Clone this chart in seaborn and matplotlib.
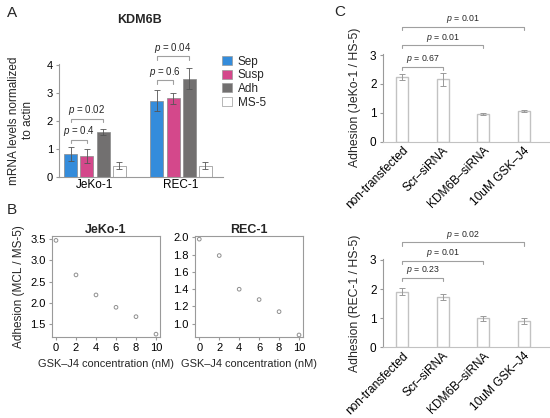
import numpy as np
import pandas as pd
import matplotlib
matplotlib.use("Agg")
import matplotlib.pyplot as plt
import seaborn as sns

# panel A - KDM6B mRNA
cells = ["JeKo-1", "REC-1"]
conds = ["Sep", "Susp", "Adh", "MS-5"]
mrna_jeko = [0.82, 0.75, 1.60, 0.40]
mrna_jeko_err = [0.25, 0.25, 0.11, 0.14]
mrna_rec = [2.72, 2.80, 3.51, 0.40]
mrna_rec_err = [0.38, 0.20, 0.37, 0.13]

# panel B - GSK-J4 dose
gsk_conc = [0, 2, 4, 6, 8, 10]
adh_jeko_dose = [3.47, 2.66, 2.19, 1.90, 1.68, 1.27]
adh_rec_dose = [1.98, 1.79, 1.40, 1.28, 1.14, 0.87]

# panel C - adhesion after knockdown
treatments = ["non-transfected", "Scr\u2013siRNA", "KDM6B\u2013siRNA", "10uM GSK\u2013J4"]
adh_jeko = [2.23, 2.16, 0.95, 1.06]
adh_jeko_err = [0.11, 0.23, 0.04, 0.04]
adh_rec = [1.90, 1.72, 0.99, 0.90]
adh_rec_err = [0.12, 0.10, 0.07, 0.10]

sns.set_style("ticks")
plt.rcParams["font.family"] = ["Liberation Sans", "DejaVu Sans"]
plt.rcParams["mathtext.fontset"] = "custom"
plt.rcParams["mathtext.it"] = "Liberation Sans:italic"
plt.rcParams["mathtext.rm"] = "Liberation Sans"
plt.rcParams["axes.edgecolor"] = "#9a9a9a"
plt.rcParams["axes.linewidth"] = 0.8
plt.rcParams["xtick.color"] = "#9a9a9a"
plt.rcParams["ytick.color"] = "#9a9a9a"
plt.rcParams["xtick.labelcolor"] = "black"
plt.rcParams["ytick.labelcolor"] = "black"
plt.rcParams["xtick.major.size"] = 2.5
plt.rcParams["ytick.major.size"] = 2.5
plt.rcParams["xtick.major.pad"] = 2
plt.rcParams["ytick.major.pad"] = 2

W, H = 550, 418
fig = plt.figure(figsize=(W / 100, H / 100), dpi=100)


def px_axes(l, t, r, b):
    return fig.add_axes([l / W, 1 - b / H, (r - l) / W, (b - t) / H])


def bracket(ax, x1, x2, y, label, drop, fs=6.5):
    ax.plot([x1, x1, x2, x2], [y - drop, y, y, y - drop], color="#a0a0a0",
            lw=0.8, clip_on=False)
    ax.text((x1 + x2) / 2, y + drop * 0.4, label, ha="center", va="bottom",
            fontsize=fs, clip_on=False)


def bar_centers(ax):
    ps = sorted([p for p in ax.patches if p.get_height() > 0], key=lambda p: p.get_x())
    return [p.get_x() + p.get_width() / 2 for p in ps]


# ---------------- A ----------------
axA = px_axes(59.3, 64.3, 223.3, 176.7)
dfA = pd.DataFrame({
    "cell": np.repeat(cells, len(conds)),
    "cond": conds * len(cells),
    "value": mrna_jeko + mrna_rec,
})
palA = {"Sep": "#348cdb", "Susp": "#d4488b", "Adh": "#727070", "MS-5": "white"}
sns.barplot(data=dfA, x="cell", y="value", hue="cond", hue_order=conds,
            palette=palA, saturation=1, width=0.75, gap=0.2, ax=axA,
            errorbar=None, edgecolor="#8a8a8a", linewidth=0.5)
xs = bar_centers(axA)
errsA = mrna_jeko_err + mrna_rec_err
axA.errorbar(xs, dfA["value"], yerr=errsA, fmt="none", ecolor="#555555",
             elinewidth=0.6, capsize=2, capthick=0.6)
axA.set_xlim(-0.415, 1.49)
axA.set_ylim(0, 4.02)
axA.set_yticks([0, 1, 2, 3, 4])
axA.tick_params(axis="y", labelsize=8)
axA.tick_params(axis="x", labelsize=8.5, length=0)
axA.set_xlabel("")
axA.set_ylabel("mRNA levels normalized\nto actin", fontsize=8.5, labelpad=9)
sns.despine(ax=axA)
bracket(axA, xs[0], xs[1], 1.32, "$\\it{p}$ = 0.4", 0.12, fs=7)
bracket(axA, xs[0], xs[2], 2.08, "$\\it{p}$ = 0.02", 0.12, fs=7)
bracket(axA, xs[4], xs[5], 3.45, "$\\it{p}$ = 0.6", 0.12, fs=7)
bracket(axA, xs[4], xs[6], 4.30, "$\\it{p}$ = 0.04", 0.12, fs=7)
leg = axA.legend(loc="upper left", bbox_to_anchor=(0.965, 1.12), frameon=False,
                 fontsize=8.5, handlelength=0.8, handleheight=0.8,
                 handletextpad=0.5, labelspacing=0.15, borderaxespad=0)
for h in leg.legend_handles:
    h.set_edgecolor("#9a9a9a")
fig.text(140 / W, 1 - 20 / H, "KDM6B", ha="center", va="center",
         fontsize=9, fontweight="bold")

# ---------------- B ----------------
dfB = pd.DataFrame({"conc": gsk_conc, "jeko": adh_jeko_dose, "rec": adh_rec_dose})
axB1 = px_axes(51.7, 235.7, 160, 336.7)
axB2 = px_axes(195, 235.7, 303, 336.7)
for ax, col, title, lim, ticks in [
        (axB1, "jeko", "JeKo-1", (1.21, 3.58), np.arange(1.5, 3.51, 0.5)),
        (axB2, "rec", "REC-1", (0.85, 2.02), np.arange(1.0, 2.01, 0.2))]:
    sns.scatterplot(data=dfB, x="conc", y=col, ax=ax, marker="o", s=7,
                    facecolor="none", edgecolor="#8f8f8f", linewidth=0.7)
    ax.set_xlim(-0.43, 10.4)
    ax.set_ylim(*lim)
    ax.set_xticks(gsk_conc)
    ax.set_yticks(ticks)
    ax.set_yticklabels([f"{t:.1f}" for t in ticks])
    ax.tick_params(labelsize=8)
    ax.set_title(title, fontsize=9, fontweight="bold", pad=2)
    ax.set_xlabel("GSK\u2013J4 concentration (nM)", fontsize=7.9, labelpad=4)
    ax.set_ylabel("")
axB1.set_ylabel("Adhesion (MCL / MS-5)", fontsize=8.5, labelpad=4)

# ---------------- C ----------------
def adhesion_panel(ax, vals, errs, ylab, brackets):
    d = pd.DataFrame({"treat": treatments, "value": vals})
    sns.barplot(data=d, x="treat", y="value", color="white", width=0.3,
                edgecolor="#c2c2c2", linewidth=1.0, errorbar=None, ax=ax)
    ax.errorbar(range(len(vals)), vals, yerr=errs, fmt="none", ecolor="#9a9a9a",
                elinewidth=0.7, capsize=2, capthick=0.7)
    ax.set_xlim(-0.48, 3.7)
    ax.set_ylim(0, 3.05)
    ax.set_yticks([0, 1, 2, 3])
    ax.tick_params(axis="y", labelsize=8.5)
    ax.tick_params(axis="x", labelsize=8.6, length=0)
    plt.setp(ax.get_xticklabels(), rotation=45, ha="right", rotation_mode="anchor")
    ax.set_xlabel("")
    ax.set_ylabel(ylab, fontsize=8.8, labelpad=6)
    sns.despine(ax=ax)
    ax.spines["bottom"].set_color("#c2c2c2")
    for j, y, lab in brackets:
        bracket(ax, 0, j, y, lab, 0.12, fs=6.3)


axC1 = px_axes(382.7, 53.6, 552, 141.7)
adhesion_panel(axC1, adh_jeko, adh_jeko_err, "Adhesion (JeKo-1 / HS-5)",
               [(1, 2.60, "$\\it{p}$ = 0.67"), (2, 3.35, "$\\it{p}$ = 0.01"),
                (3, 3.98, "$\\it{p}$ = 0.01")])
axC2 = px_axes(382.7, 258.5, 552, 347.3)
adhesion_panel(axC2, adh_rec, adh_rec_err, "Adhesion (REC-1 / HS-5)",
               [(1, 2.39, "$\\it{p}$ = 0.23"), (2, 2.98, "$\\it{p}$ = 0.01"),
                (3, 3.60, "$\\it{p}$ = 0.02")])

for lab, x, y in [("A", 12, 13), ("B", 12, 210), ("C", 340, 12)]:
    fig.text(x / W, 1 - y / H, lab, ha="center", va="center", fontsize=11)

fig.savefig("out.png", dpi=100)
